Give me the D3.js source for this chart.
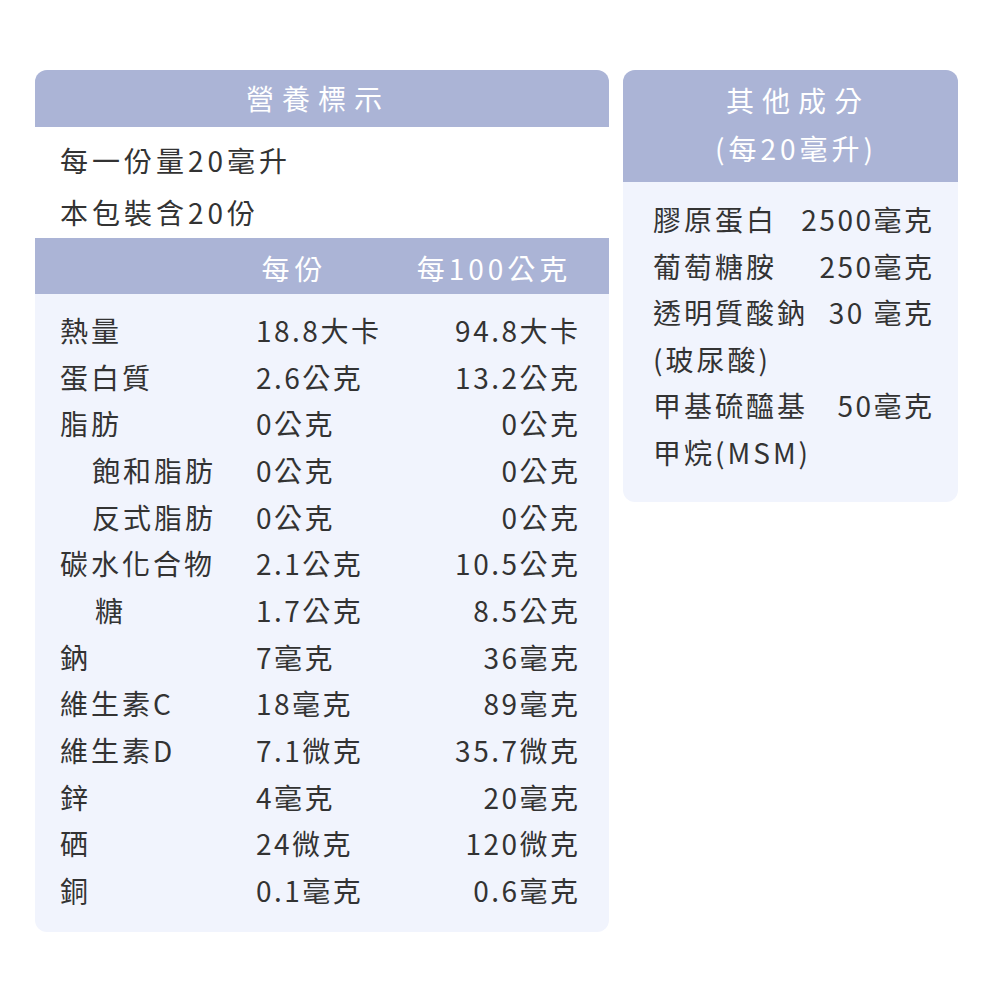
<!DOCTYPE html><html><head><meta charset="utf-8">
<script src="https://cdn.jsdelivr.net/npm/d3@7"></script>
<style>body{margin:0;background:#fff}text{font-family:"Noto Sans CJK TC","Noto Sans";}</style></head><body>
<script>
const servingLines=["每一份量20毫升","本包裝含20份"];
const colHeads=["每份","每100公克"];
const nutrients=["熱量","蛋白質","脂肪","飽和脂肪","反式脂肪","碳水化合物","糖","鈉","維生素C","維生素D","鋅","硒","銅"];
const indent=[0,0,0,1,1,0,2,0,0,0,0,0,0];
const perServing=["18.8大卡","2.6公克","0公克","0公克","0公克","2.1公克","1.7公克","7毫克","18毫克","7.1微克","4毫克","24微克","0.1毫克"];
const per100=["94.8大卡","13.2公克","0公克","0公克","0公克","10.5公克","8.5公克","36毫克","89毫克","35.7微克","20毫克","120微克","0.6毫克"];
const otherTitle=["其他成分","(每20毫升)"];
const otherNames=["膠原蛋白","葡萄糖胺","透明質酸鈉","(玻尿酸)","甲基硫醯基","甲烷(MSM)"];
const otherVals=["2500毫克","250毫克","30 毫克","","50毫克",""];

const svg=d3.select("body").append("svg").attr("width",1000).attr("height",1000);
const head="#abb4d6", body="#f1f4fd", ink="#333";
svg.append("rect").attr("x",35).attr("y",70).attr("width",574).attr("height",862).attr("rx",12).attr("fill",body);
svg.append("clipPath").attr("id","cl").append("rect").attr("x",35).attr("y",70).attr("width",574).attr("height",862).attr("rx",12);
const gL=svg.append("g").attr("clip-path","url(#cl)");
gL.append("rect").attr("x",35).attr("y",70).attr("width",574).attr("height",57).attr("fill",head);
gL.append("rect").attr("x",35).attr("y",127).attr("width",574).attr("height",111).attr("fill","#fff");
gL.append("rect").attr("x",35).attr("y",238).attr("width",574).attr("height",56).attr("fill",head);
const T=(g,x,y,t,o={})=>{const e=g.append("text").attr("x",x).attr("y",y).text(t).attr("font-size",o.fs||28)
 .attr("fill",o.fill||ink).attr("text-anchor",o.a||"start").attr("dominant-baseline","central").attr("letter-spacing",o.ls==null?2.5:o.ls);
 if(o.a==="end"){const w=e.node().getComputedTextLength();e.attr("text-anchor","start").attr("x",x-w+ (o.ls==null?2.5:o.ls));}
 if(o.a==="middle"){const w=e.node().getComputedTextLength();e.attr("text-anchor","start").attr("x",x-w/2+(o.ls||0)/2);}
 return e;};
T(svg,314,98,"營養標示",{fill:"#fff",a:"middle",ls:8});
const ys=d3.scalePoint().domain(servingLines).range([160,212]);
servingLines.forEach(s=>T(svg,60,ys(s),s,{ls:4}));
T(svg,292,268,colHeads[0],{fill:"#fff",a:"middle",ls:5});
T(svg,492,268,colHeads[1],{fill:"#fff",a:"middle",ls:4});
const y=d3.scalePoint().domain(d3.range(nutrients.length)).range([330,890]);
nutrients.forEach((n,i)=>{
 T(svg,[60,92,95][indent[i]],y(i),n,{ls:3});
 T(svg,256,y(i),perServing[i]);
 T(svg,578,y(i),per100[i],{a:"end"});
});
svg.append("rect").attr("x",623).attr("y",70).attr("width",335).attr("height",432).attr("rx",12).attr("fill",body);
svg.append("clipPath").attr("id","cr").append("rect").attr("x",623).attr("y",70).attr("width",335).attr("height",432).attr("rx",12);
svg.append("g").attr("clip-path","url(#cr)").append("rect").attr("x",623).attr("y",70).attr("width",335).attr("height",112).attr("fill",head);
T(svg,794,100,otherTitle[0],{fill:"#fff",a:"middle",ls:8});
T(svg,794,148,otherTitle[1],{fill:"#fff",a:"middle",ls:4});
const y2=d3.scalePoint().domain(d3.range(otherNames.length)).range([219,452]);
otherNames.forEach((n,i)=>{
 T(svg,653,y2(i),n,{ls:3});
 if(otherVals[i])T(svg,932,y2(i),otherVals[i],{a:"end"});
});
</script></body></html>
